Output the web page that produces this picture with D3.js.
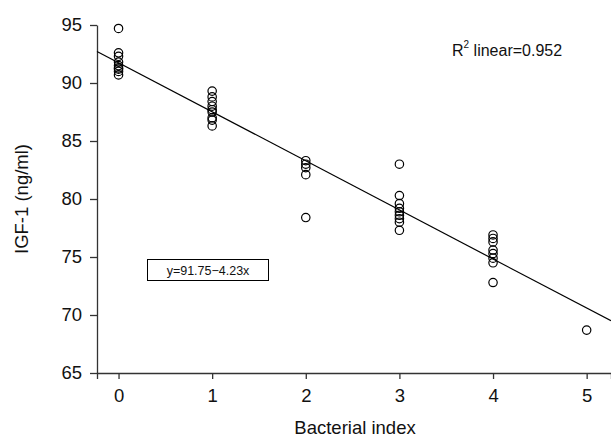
<!DOCTYPE html>
<html><head><meta charset="utf-8">
<script src="https://cdn.jsdelivr.net/npm/d3@7/dist/d3.min.js"></script>
<style>body{margin:0;background:#fff;} text{font-family:"Liberation Sans",Arial,sans-serif;}</style>
</head><body>
<svg id="c" width="611" height="439"></svg>
<script>
const xTicks = [0,1,2,3,4,5];
const yTicks = [65,70,75,80,85,90,95];
const idx0 = [94.7,92.6,92.3,91.8,91.5,91.3,91.2,91.0,90.7];
const idx1 = [89.3,88.8,88.4,88.0,87.7,87.5,87.0,86.8,86.3];
const idx2 = [83.3,83.0,82.7,82.1,78.4];
const idx3 = [83.0,80.3,79.6,79.2,78.9,78.6,78.3,78.0,77.3];
const idx4 = [76.9,76.6,76.3,75.6,75.3,74.9,74.5,72.8];
const idx5 = [68.7];
const groups = [idx0, idx1, idx2, idx3, idx4, idx5];
const intercept = 91.75, slope = -4.23;
const r2 = 0.952;

const svg = d3.select("#c");
const x = d3.scaleLinear().domain([-0.23,5.26]).range([97,611]);
const y = d3.scaleLinear().domain([65,95]).range([373,25]);

const xa = svg.append("g").attr("transform","translate(0,373)")
  .call(d3.axisBottom(x).tickValues(xTicks).tickFormat(d3.format("d")).tickSize(6).tickSizeOuter(6).tickPadding(10));
const ya = svg.append("g").attr("transform","translate(97,0)")
  .call(d3.axisLeft(y).tickValues(yTicks).tickFormat(d3.format("d")).tickSize(7).tickSizeOuter(0).tickPadding(8));
[xa,ya].forEach(a=>{
  a.selectAll("path,line").attr("stroke","#333").attr("stroke-width",1.3);
  a.selectAll("text").attr("font-size",18.5).attr("fill","#111").attr("font-family","Liberation Sans, Arial, sans-serif");
});

// regression line
const [x0,x1] = x.domain();
svg.append("line")
  .attr("x1",x(x0)).attr("y1",y(intercept+slope*x0))
  .attr("x2",x(x1)).attr("y2",y(intercept+slope*x1))
  .attr("stroke","#000").attr("stroke-width",1.2);

// points
const pts = [];
groups.forEach((g,i)=>g.forEach(v=>pts.push({x:i,y:v})));
svg.append("g").selectAll("circle").data(pts).join("circle")
  .attr("cx",d=>x(d.x)).attr("cy",d=>y(d.y)).attr("r",4.2)
  .attr("fill","none").attr("stroke","#000").attr("stroke-width",1.2);

// axis titles
svg.append("text").attr("x",355).attr("y",434).attr("text-anchor","middle")
  .attr("font-size",18.5).attr("fill","#111").text("Bacterial index");
svg.append("text").attr("transform","translate(28,199) rotate(-90)").attr("text-anchor","middle")
  .attr("font-size",18.5).attr("fill","#111").text("IGF-1 (ng/ml)");

// R2 text
const rt = svg.append("text").attr("x",452).attr("y",56).attr("font-size",16).attr("fill","#111");
rt.append("tspan").text("R");
rt.append("tspan").attr("dy",-8).attr("font-size",10).text("2");
rt.append("tspan").attr("dy",8).text(" linear=" + r2.toFixed(3));

// equation box
svg.append("rect").attr("x",147.5).attr("y",259.5).attr("width",121).attr("height",21)
  .attr("fill","#fff").attr("stroke","#000").attr("stroke-width",1);
svg.append("text").attr("x",208).attr("y",275).attr("text-anchor","middle")
  .attr("font-size",12.5).attr("fill","#111").text("y=" + intercept.toFixed(2) + "\u2212" + Math.abs(slope).toFixed(2) + "x");
</script>
</body></html>
